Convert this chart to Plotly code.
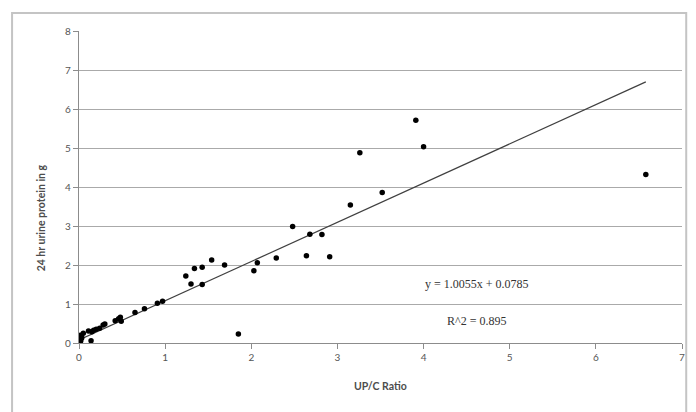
import plotly.graph_objects as go

# UP/C ratio (x) vs 24 hr urine protein in g (y)
upc_ratio = [0.02, 0.03, 0.02, 0.05, 0.03, 0.11, 0.15, 0.14, 0.17, 0.20, 0.24, 0.28, 0.30,
             0.42, 0.46, 0.48, 0.49, 0.65, 0.76, 0.91, 0.97, 1.24, 1.30, 1.34, 1.43, 1.43,
             1.54, 1.69, 1.85, 2.03, 2.07, 2.29, 2.48, 2.64, 2.68, 2.82, 2.91, 3.15, 3.26,
             3.52, 3.91, 4.00, 6.58]
urine_protein = [0.05, 0.12, 0.20, 0.25, 0.16, 0.31, 0.29, 0.06, 0.33, 0.35, 0.38, 0.46, 0.49,
                 0.57, 0.62, 0.66, 0.56, 0.78, 0.88, 1.02, 1.07, 1.72, 1.51, 1.91, 1.94, 1.50,
                 2.13, 2.00, 0.23, 1.85, 2.06, 2.18, 2.99, 2.24, 2.79, 2.78, 2.21, 3.54, 4.88,
                 3.86, 5.71, 5.03, 4.32]

slope = 1.0055
intercept = 0.0785
r_squared = 0.895

x_ticks = [0, 1, 2, 3, 4, 5, 6, 7]
y_ticks = [0, 1, 2, 3, 4, 5, 6, 7, 8]

trend_x = [0, max(upc_ratio)]
trend_y = [slope * v + intercept for v in trend_x]

fig = go.Figure()
fig.add_trace(go.Scatter(x=trend_x, y=trend_y, mode="lines",
                         line=dict(color="#404040", width=1.2), showlegend=False,
                         hoverinfo="skip"))
fig.add_trace(go.Scatter(x=upc_ratio, y=urine_protein, mode="markers",
                         marker=dict(color="black", size=5.5), showlegend=False))

fig.add_annotation(x=4.62, y=1.52, xref="x", yref="y",
                   text=f"y = {slope}x + {intercept}", showarrow=False,
                   font=dict(family="Liberation Serif", size=12, color="#333333"))
fig.add_annotation(x=4.62, y=0.57, xref="x", yref="y",
                   text=f"R^2 = {r_squared}", showarrow=False,
                   font=dict(family="Liberation Serif", size=12, color="#333333"))

# axis titles
fig.add_annotation(x=-0.076, y=0.40, xref="paper", yref="paper", textangle=-90,
                   text="<b>24 hr urine protein in g</b>", showarrow=False,
                   font=dict(family="Lato", size=10.5, color="#4d4d4d"))
fig.add_annotation(x=0.5, y=-0.163, xref="paper", yref="paper",
                   text="<b>UP/C Ratio</b>", showarrow=False,
                   font=dict(family="Lato", size=10.5, color="#4d4d4d"))

# outer chart border
fig.add_shape(type="rect", xref="paper", yref="paper",
              x0=-0.111, x1=1.007, y0=-0.25, y1=1.058,
              line=dict(color="#c4c4c4", width=2), layer="above")

fig.update_layout(
    width=696, height=412,
    margin=dict(l=79, r=11, t=31, b=69),
    paper_bgcolor="white", plot_bgcolor="white",
    font=dict(family="Lato", color="#4d4d4d", size=10),
    xaxis=dict(range=[0, 7], tickvals=x_ticks, showgrid=False, zeroline=False,
               showline=True, linecolor="#8c8c8c", linewidth=1.3,
               ticks="outside", ticklen=5, tickcolor="#8c8c8c", tickwidth=1.3,
               tickfont=dict(size=10, color="#555555")),
    yaxis=dict(range=[0, 8], tickvals=y_ticks, showgrid=True, gridcolor="rgb(170,170,170)",
               gridwidth=1.2, zeroline=False, showline=True, linecolor="#8c8c8c",
               linewidth=1.3, ticks="outside", ticklen=5, tickcolor="#8c8c8c", tickwidth=1.3,
               ticksuffix="\u00a0\u00a0\u00a0\u00a0",
               tickfont=dict(size=10, color="#555555")),
)

fig.write_html("out.html", config={"displayModeBar": False},
               post_script="document.body.style.margin='0';document.body.style.padding='0';")
